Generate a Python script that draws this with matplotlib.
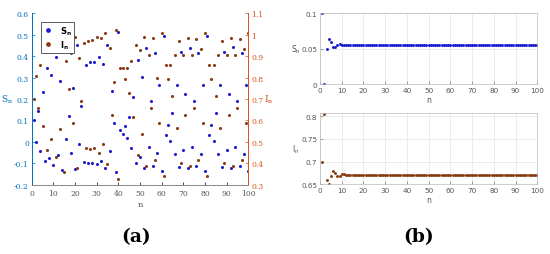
import numpy as np
import matplotlib
matplotlib.use("Agg")
import matplotlib.pyplot as plt

# (a) chaotic trajectories, n = 1..100
n_a = list(range(1, 101))
S_a = [0.100, 0.000, 0.145, -0.044, 0.231, -0.090, 0.344, -0.075, 0.313, -0.106,
       0.398, -0.063, 0.286, -0.130, 0.460, 0.011, 0.120, -0.050, 0.253, -0.127,
       0.450, -0.010, 0.168, -0.092, 0.361, -0.097, 0.375, -0.097, 0.375, -0.103,
       0.398, -0.090, 0.363, -0.122, 0.452, -0.042, 0.238, 0.090, -0.142, 0.511,
       0.056, 0.038, 0.073, 0.017, 0.114, -0.031, 0.209, -0.100, 0.382, -0.069,
       0.301, -0.122, 0.440, -0.023, 0.193, -0.113, 0.417, -0.053, 0.265, -0.138,
       0.492, 0.031, 0.077, 0.005, 0.133, -0.055, 0.265, -0.116, 0.420, -0.038,
       0.223, -0.122, 0.440, -0.025, 0.193, -0.113, 0.417, -0.055, 0.265, -0.138,
       0.492, 0.033, 0.078, 0.006, 0.133, -0.055, 0.266, -0.116, 0.419, -0.037,
       0.222, -0.122, 0.441, -0.024, 0.193, -0.112, 0.417, -0.055, 0.266, -0.138]
I_a = [0.700, 0.808, 0.659, 0.861, 0.573, 0.920, 0.463, 0.925, 0.513, 0.930,
       0.428, 0.936, 0.560, 0.960, 0.360, 0.877, 0.745, 0.914, 0.588, 0.988,
       0.377, 0.890, 0.690, 0.960, 0.472, 0.972, 0.466, 0.975, 0.470, 0.988,
       0.448, 0.983, 0.490, 1.008, 0.397, 0.938, 0.626, 0.780, 1.023, 0.328,
       0.843, 0.843, 0.792, 0.843, 0.729, 0.877, 0.614, 0.950, 0.440, 0.930,
       0.536, 0.988, 0.388, 0.906, 0.660, 0.983, 0.414, 0.800, 0.589, 1.010,
       0.340, 0.858, 0.793, 0.858, 0.712, 0.906, 0.564, 0.970, 0.403, 0.906,
       0.625, 0.984, 0.388, 0.905, 0.660, 0.980, 0.414, 0.933, 0.589, 1.010,
       0.340, 0.858, 0.793, 0.858, 0.712, 0.906, 0.565, 0.970, 0.403, 0.906,
       0.625, 0.984, 0.388, 0.905, 0.660, 0.980, 0.414, 0.933, 0.588, 1.010]

# (b) convergent trajectories, n = 1..100
n_b = list(range(1, 101))
S_b = [0.100, 0.001, 0.050, 0.064, 0.060, 0.052, 0.052, 0.056, 0.057, 0.056,
       0.0555, 0.0552] + [0.0553] * 88
I_b = [0.700, 0.805, 0.660, 0.650, 0.669, 0.680, 0.675, 0.668, 0.668, 0.672,
       0.672, 0.671] + [0.6715] * 88

x_ticks = list(range(0, 101, 10))
left_ticks = [-0.2, -0.1, 0, 0.1, 0.2, 0.3, 0.4, 0.5, 0.6]
left_labels = ["-0.2", "-0.1", "0", "0.1", "0.2", "0.3", "0.4", "0.5", "0.6"]
right_ticks = [0.3, 0.4, 0.5, 0.6, 0.7, 0.8, 0.9, 1.0, 1.1]
right_labels = ["0.3", "0.4", "0.5", "0.6", "0.7", "0.8", "0.9", "1", "1.1"]

C_LEFT = (0.0, 0.447, 0.741)
C_RIGHT = (0.85, 0.325, 0.098)
C_S = "#1a1ad0"
C_I = "#8a3a12"
GRAY = "#555555"
serif = "DejaVu Serif"

fig = plt.figure(figsize=(5.5, 2.55), dpi=100)

# ---- (a)
ax = fig.add_axes([0.0576, 0.2718, 0.3938, 0.672])
ax2 = ax.twinx()
ax.plot(n_a, S_a, ".", color=C_S, ms=2.4, label=r"$\mathbf{S_n}$")
ax2.plot(n_a, I_a, ".", color=C_I, ms=2.4, label=r"$\mathbf{I_n}$")
ax.set_xlim(0, 100)
ax.set_ylim(-0.2, 0.6)
ax2.set_ylim(0.3, 1.1)
ax.set_xticks(x_ticks)
ax.set_xticklabels([str(t) for t in x_ticks], fontsize=5.5, family=serif, color=GRAY)
ax.set_yticks(left_ticks)
ax.set_yticklabels(left_labels, fontsize=5.5, family=serif, color=C_LEFT)
ax2.set_yticks(right_ticks)
ax2.set_yticklabels(right_labels, fontsize=5.5, family=serif, color=C_RIGHT)
for a in (ax, ax2):
    a.tick_params(direction="in", length=2, width=0.5, pad=2)
    a.spines["top"].set_visible(False)
    a.spines["bottom"].set_color("#888888")
    a.spines["left"].set_color(C_LEFT)
    a.spines["right"].set_color(C_RIGHT)
    for s in a.spines.values():
        s.set_linewidth(0.6)
ax.tick_params(axis="y", colors=C_LEFT)
ax2.tick_params(axis="y", colors=C_RIGHT)
ax.tick_params(axis="x", pad=3)
ax.set_xlabel("n", fontsize=6, family=serif, color=GRAY, labelpad=2)
ax.set_ylabel(r"$\mathregular{S_n}$", fontsize=6.5, family=serif, color=C_LEFT,
              rotation=0, labelpad=5, va="center")
ax2.set_ylabel(r"$\mathregular{I_n}$", fontsize=6.5, family=serif, color=C_RIGHT,
               rotation=0, labelpad=4, va="center")

# legend goes on the twin axes so the I_n dots do not cover it
h1, l1 = ax.get_legend_handles_labels()
h2, l2 = ax2.get_legend_handles_labels()
leg = ax2.legend(h1 + h2, l1 + l2, loc="upper left", bbox_to_anchor=(0.022, 0.975),
                 fontsize=6, markerscale=2.0, handlelength=1.2, handletextpad=0.8,
                 borderpad=0.3, labelspacing=0.15, fancybox=False, framealpha=1)
leg.get_frame().set_edgecolor("#444444")
leg.get_frame().set_linewidth(0.6)

# ---- (b) top
bx = fig.add_axes([0.5818, 0.6655, 0.395, 0.2784])
bx.plot(n_b, S_b, ".", color=C_S, ms=2.2)
bx.set_xlim(0, 100)
bx.set_ylim(0, 0.1)
bx.set_yticks([0, 0.05, 0.1])
bx.set_yticklabels(["0", "0.05", "0.1"])
bx.set_ylabel(r"$\mathregular{S_n}$", fontsize=5.5, color=GRAY, rotation=0, labelpad=4, va="center")

# ---- (b) bottom
cx = fig.add_axes([0.5818, 0.2733, 0.395, 0.28])
cx.plot(n_b, I_b, ".", color=C_I, ms=2.2)
cx.set_xlim(0, 100)
cx.set_ylim(0.65, 0.807)
cx.set_yticks([0.65, 0.7, 0.75, 0.8])
cx.set_yticklabels(["0.65", "0.7", "0.75", "0.8"])
cx.set_ylabel(r"$\mathregular{I_n}$", fontsize=5.5, color=GRAY, rotation=0, labelpad=4, va="center")

for a in (bx, cx):
    a.set_xticks(x_ticks)
    a.set_xticklabels([str(t) for t in x_ticks])
    a.tick_params(direction="in", length=2, width=0.4, labelsize=5.2, colors=GRAY, pad=2)
    a.grid(True, color="#e4e4e4", linewidth=0.5)
    a.set_axisbelow(True)
    a.set_xlabel("n", fontsize=5.5, color=GRAY, labelpad=1.5)
    for s in a.spines.values():
        s.set_color("#bbbbbb")
        s.set_linewidth(0.5)

fig.text(0.247, 0.072, "(a)", fontsize=13.5, fontweight="bold", family=serif,
         ha="center", va="center")
fig.text(0.761, 0.072, "(b)", fontsize=13.5, fontweight="bold", family=serif,
         ha="center", va="center")

fig.savefig("out.png", dpi=100)
